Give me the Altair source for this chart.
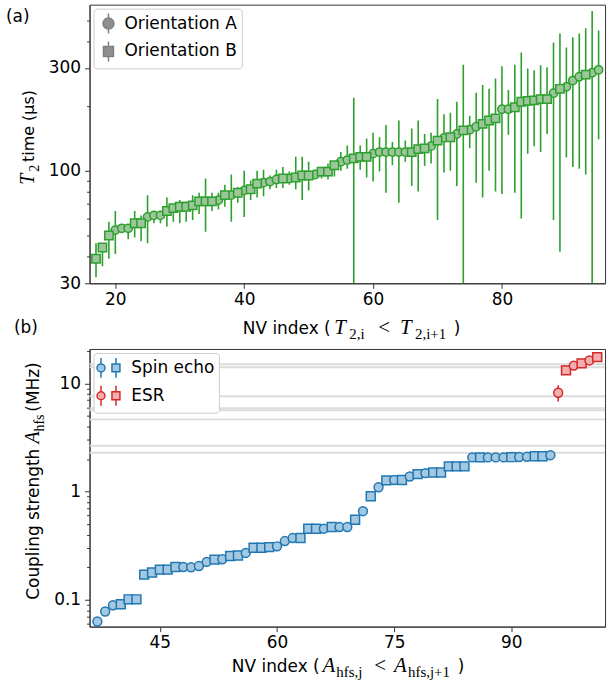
import altair as alt
import pandas as pd

# ---------------- panel (a): T2 times ----------------
t2_index = list(range(17, 96))
t2_orient = (list("BBBAAABBAAABBBBBBBBABABABB")
             + list("AAABABBBABBBAABBBAAAAAABB")
             + list("BABABABAABBBAABBBBBBABAAABAA"))
t2_value = [39, 44, 50, 53, 54, 54, 57, 57, 61, 62, 62, 65, 67, 68, 68, 69, 72, 72, 72, 73,
            77, 77, 79, 81, 82, 87, 88, 89, 91, 92, 92, 93, 95, 95, 96, 99, 99, 106, 110, 112,
            114, 116, 116, 120, 122, 122, 122, 122, 122, 122, 126, 127, 130, 138, 142, 143, 148, 154, 155, 160,
            165, 171, 175, 193, 193, 197, 209, 211, 212, 215, 215, 229, 240, 245, 262, 273, 279, 285, 294]
t2_low = [32, 36, 39, 41, 52, 48, 49, 47, 46, 57, 57, 55, 58, 57, 58, 59, 63, 52, 65, 66,
          68, 58, 71, 61, 73, 75, 76, 82, 83, 83, 86, 82, 73, 81, 92, 92, 91, 94, 100, 102,
          20, 101, 93, 89, 99, 79, 106, 71, 110, 85, 80, 105, 108, 59, 98, 100, 85, 20, 127, 88,
          75, 100, 80, 78, 147, 79, 60, 120, 130, 122, 148, 59, 42, 115, 104, 102, 96, 20, 140]
t2_high = [46, 46, 58, 65, 55, 56, 65, 62, 77, 64, 65, 75, 69, 73, 72, 77, 79, 92, 79, 79,
           86, 96, 84, 100, 90, 100, 101, 95, 101, 104, 99, 116, 116, 110, 101, 104, 108, 110, 122, 131,
           218, 131, 141, 150, 143, 163, 136, 171, 138, 157, 171, 148, 150, 215, 183, 186, 209, 310, 180, 230,
           250, 240, 268, 305, 237, 310, 354, 298, 293, 309, 302, 394, 434, 373, 416, 434, 458, 552, 447]

# ---------------- panel (b): coupling strengths ----------------
hfs_index = list(range(37, 102))
hfs_orient = list("AAABBBBBBBBAAAABABBABBBAAABBBABAABABABABABABBBBBABAAABAABBAB")[:59] + list("ABABAB")
hfs_method = ["Spin echo"] * 59 + ["ESR"] * 6
hfs_value = [0.063, 0.078, 0.089, 0.091, 0.101, 0.101, 0.171, 0.179, 0.19, 0.19,
             0.201, 0.201, 0.2, 0.205, 0.224, 0.235, 0.237, 0.254, 0.257, 0.271,
             0.303, 0.303, 0.307, 0.312, 0.349, 0.372, 0.372, 0.454, 0.454, 0.454,
             0.47, 0.47, 0.47, 0.549, 0.659, 0.905, 1.096, 1.27, 1.28, 1.28,
             1.38, 1.45, 1.48, 1.5, 1.5, 1.71, 1.71, 1.71, 2.07, 2.07,
             2.07, 2.07, 2.07, 2.08, 2.09, 2.1, 2.12, 2.12, 2.17,
             8.2, 13.2, 14.6, 15.3, 16.3, 17.5]
esr_err_index = [96]
esr_err_low = [6.8]
esr_err_high = [9.6]
ref_lines = [15.0, 14.1, 7.6, 5.9, 5.65, 4.65, 2.65, 2.28]

GREEN, GREEN_FILL = "#2ca02c", "#9cc59c"
BLUE, BLUE_FILL = "#1f77b4", "#a5c8e1"
RED, RED_FILL = "#d62728", "#f0aeae"
SANS, SERIF = "DejaVu Sans", "Liberation Serif"
FS = 17
W, H1, H2 = 518, 280, 279

orient_names = {"A": "Orientation A", "B": "Orientation B"}
top_df = pd.DataFrame({"idx": t2_index, "orient": [orient_names[o] for o in t2_orient],
                       "t2": t2_value, "lo": t2_low, "hi": t2_high})
bot_df = pd.DataFrame({"idx": hfs_index, "orient": hfs_orient, "method": hfs_method, "a": hfs_value})
err_df = pd.DataFrame({"idx": esr_err_index, "lo": esr_err_low, "hi": esr_err_high})
lines_df = pd.DataFrame({"a": ref_lines})
ONE = pd.DataFrame({"k": [0]})


def piece(s, x, y, size=FS, font=SANS, italic=False, angle=0, align="left"):
    return alt.Chart(ONE).mark_text(
        text=s, font=font, fontSize=size, fontStyle="italic" if italic else "normal",
        angle=angle, align=align, baseline="alphabetic", color="black"
    ).encode(x=alt.value(x), y=alt.value(y))


# ---- axes
top_major = "indexof([30,100,300], datum.value) >= 0"
bot_major = "datum.value == 0.1 || datum.value == 1 || datum.value == 10"


def xtop(field):
    return alt.X(field, type="quantitative",
                 scale=alt.Scale(domain=[16, 96], nice=False, zero=False),
                 axis=alt.Axis(values=[20, 40, 60, 80], title=None, tickSize=5, labelPadding=3))


def ytop(field):
    return alt.Y(field, type="quantitative",
                 scale=alt.Scale(type="log", domain=[30, 590], nice=False),
                 axis=alt.Axis(values=[30, 40, 50, 60, 70, 80, 90, 100, 200, 300, 400, 500],
                               format="~g", labelOverlap=False, title=None, labelPadding=4,
                               labelExpr=f"{top_major} ? datum.label : ''",
                               tickSize={"condition": {"test": top_major, "value": 5}, "value": 3}))


def xbot(field):
    return alt.X(field, type="quantitative",
                 scale=alt.Scale(domain=[36, 102], nice=False, zero=False),
                 axis=alt.Axis(values=[45, 60, 75, 90], title=None, tickSize=5, labelPadding=3))


bot_vals = [0.06, 0.07, 0.08, 0.09, 0.1, 0.2, 0.3, 0.4, 0.5, 0.6, 0.7, 0.8, 0.9,
            1, 2, 3, 4, 5, 6, 7, 8, 9, 10, 20]


def ybot(field):
    return alt.Y(field, type="quantitative",
                 scale=alt.Scale(type="log", domain=[0.0565, 20.8], nice=False),
                 axis=alt.Axis(values=bot_vals, format="~g", labelOverlap=False, title=None, labelPadding=4,
                               labelExpr=f"({bot_major}) ? datum.label : ''",
                               tickSize={"condition": {"test": bot_major, "value": 5}, "value": 3}))


# ---- panel (a)
PATH_A = "M0,-1V-0.55M0,0.55V1M0.55,0A0.55,0.55,0,1,1,-0.55,0A0.55,0.55,0,1,1,0.55,0Z"
PATH_B = "M0,-1V-0.5M0,0.5V1M-0.5,-0.5H0.5V0.5H-0.5Z"
orient_dom = ["Orientation A", "Orientation B"]

errs_a = alt.Chart(top_df).mark_rule(color=GREEN, strokeWidth=1.6, clip=True).encode(
    x=xtop("idx"), y=ytop("lo"), y2="hi")


def pts_orient(name, shape):
    return alt.Chart(top_df).transform_filter(f"datum.orient == '{name}'").mark_point(
        filled=True, fill=GREEN_FILL, stroke=GREEN, strokeWidth=1.5, size=70, opacity=1, shape=shape
    ).encode(x=xtop("idx"), y=ytop("t2"))


leg_a_def = alt.Legend(title=None, orient="top-left", offset=4, padding=4,
                       strokeColor="#cccccc", fillColor="white", cornerRadius=3,
                       labelFont=SANS, labelFontSize=FS, labelColor="black",
                       symbolSize=400, symbolStrokeWidth=1.5, rowPadding=2, labelOffset=5)
leg_a = alt.Chart(top_df).transform_filter("datum.idx < 0").mark_point(
    filled=True, strokeWidth=1.5, opacity=1).encode(
    x=xtop("idx"), y=ytop("t2"),
    shape=alt.Shape("orient:N", scale=alt.Scale(domain=orient_dom, range=[PATH_A, PATH_B]),
                    legend=leg_a_def),
    fill=alt.Fill("orient:N", scale=alt.Scale(domain=orient_dom, range=["#8f8f8f", "#8f8f8f"]),
                  legend=leg_a_def),
    stroke=alt.Stroke("orient:N", scale=alt.Scale(domain=orient_dom, range=["#7f7f7f", "#7f7f7f"]),
                      legend=leg_a_def))

labels_a = [
    piece("(a)", -84, 17),
    piece("NV index (", 154, 331),
    piece("T", 246, 331, size=21, font=SERIF, italic=True),
    piece("2,i", 261, 336, size=15, font=SERIF),
    piece("<", 290, 331, size=21, font=SERIF),
    piece("T", 312, 331, size=21, font=SERIF, italic=True),
    piece("2,i+1", 327, 336, size=15, font=SERIF),
    piece(")", 366, 331),
    piece("T", -56, 181, size=20, font=SERIF, italic=True, angle=270),
    piece("2", -51, 168, size=14, font=SERIF, angle=270),
    piece("time (μs)", -56, 158, size=16, angle=270),
]

panel_a = alt.layer(errs_a, pts_orient("Orientation A", "circle"), pts_orient("Orientation B", "square"),
                    leg_a, *labels_a).properties(width=W, height=H1)

# ---- panel (b)
PATH_PAIR = ("M-0.75,-1V-0.4M-0.75,0.4V1M-0.35,0A0.4,0.4,0,1,1,-1.15,0A0.4,0.4,0,1,1,-0.35,0Z"
             "M0.75,-1V-0.4M0.75,0.4V1M0.35,-0.4H1.15V0.4H0.35Z")

grey = alt.Chart(lines_df).mark_rule(color="#dcdcdc", strokeWidth=2).encode(y=ybot("a"))
errs_b = alt.Chart(err_df).mark_rule(color=RED, strokeWidth=1.6).encode(x=xbot("idx"), y=ybot("lo"), y2="hi")
method_dom = ["Spin echo", "ESR"]
leg_b = alt.Legend(title=None, orient="top-left", offset=4, padding=4, symbolType=PATH_PAIR,
                   strokeColor="#cccccc", fillColor="white", cornerRadius=3,
                   labelFont=SANS, labelFontSize=FS, labelColor="black",
                   symbolSize=400, symbolStrokeWidth=1.5, rowPadding=2, labelOffset=12)
pts_b = alt.Chart(bot_df).mark_point(filled=True, strokeWidth=1.5, size=80, opacity=1).encode(
    x=xbot("idx"), y=ybot("a"),
    shape=alt.Shape("orient:N", scale=alt.Scale(domain=["A", "B"], range=["circle", "square"]), legend=None),
    fill=alt.Fill("method:N", scale=alt.Scale(domain=method_dom, range=[BLUE_FILL, RED_FILL]), legend=leg_b),
    stroke=alt.Stroke("method:N", scale=alt.Scale(domain=method_dom, range=[BLUE, RED]), legend=leg_b))

labels_b = [
    piece("(b)", -76, -16),
    piece("NV index (", 143, 325),
    piece("A", 234, 325, size=21, font=SERIF, italic=True),
    piece("hfs,j", 248, 330, size=15, font=SERIF),
    piece("<", 286, 325, size=21, font=SERIF),
    piece("A", 306, 325, size=21, font=SERIF, italic=True),
    piece("hfs,j+1", 320, 330, size=15, font=SERIF),
    piece(")", 370, 325),
    piece("Coupling strength", -51, 252, angle=270),
    piece("A", -51, 95, size=20, font=SERIF, italic=True, angle=270),
    piece("hfs", -46, 83, size=14, font=SERIF, angle=270),
    piece("(MHz)", -51, 63, angle=270),
]

panel_b = alt.layer(grey, errs_b, pts_b, *labels_b).properties(width=W, height=H2)

chart = alt.vconcat(panel_a, panel_b, spacing=66, bounds="flush").resolve_scale(
    shape="independent", fill="independent", stroke="independent"
).resolve_legend(
    shape="independent", fill="independent", stroke="independent"
).properties(
    padding={"left": 5, "top": 2, "right": 8, "bottom": 5}
).configure_view(stroke="#333333", strokeWidth=1).configure_axis(
    grid=False, labelFont=SANS, labelFontSize=FS, labelColor="black",
    tickColor="#333333", domainColor="#333333", tickWidth=1, domainWidth=1
)

chart.save("out.html", embed_options={"renderer": "svg", "actions": False})
